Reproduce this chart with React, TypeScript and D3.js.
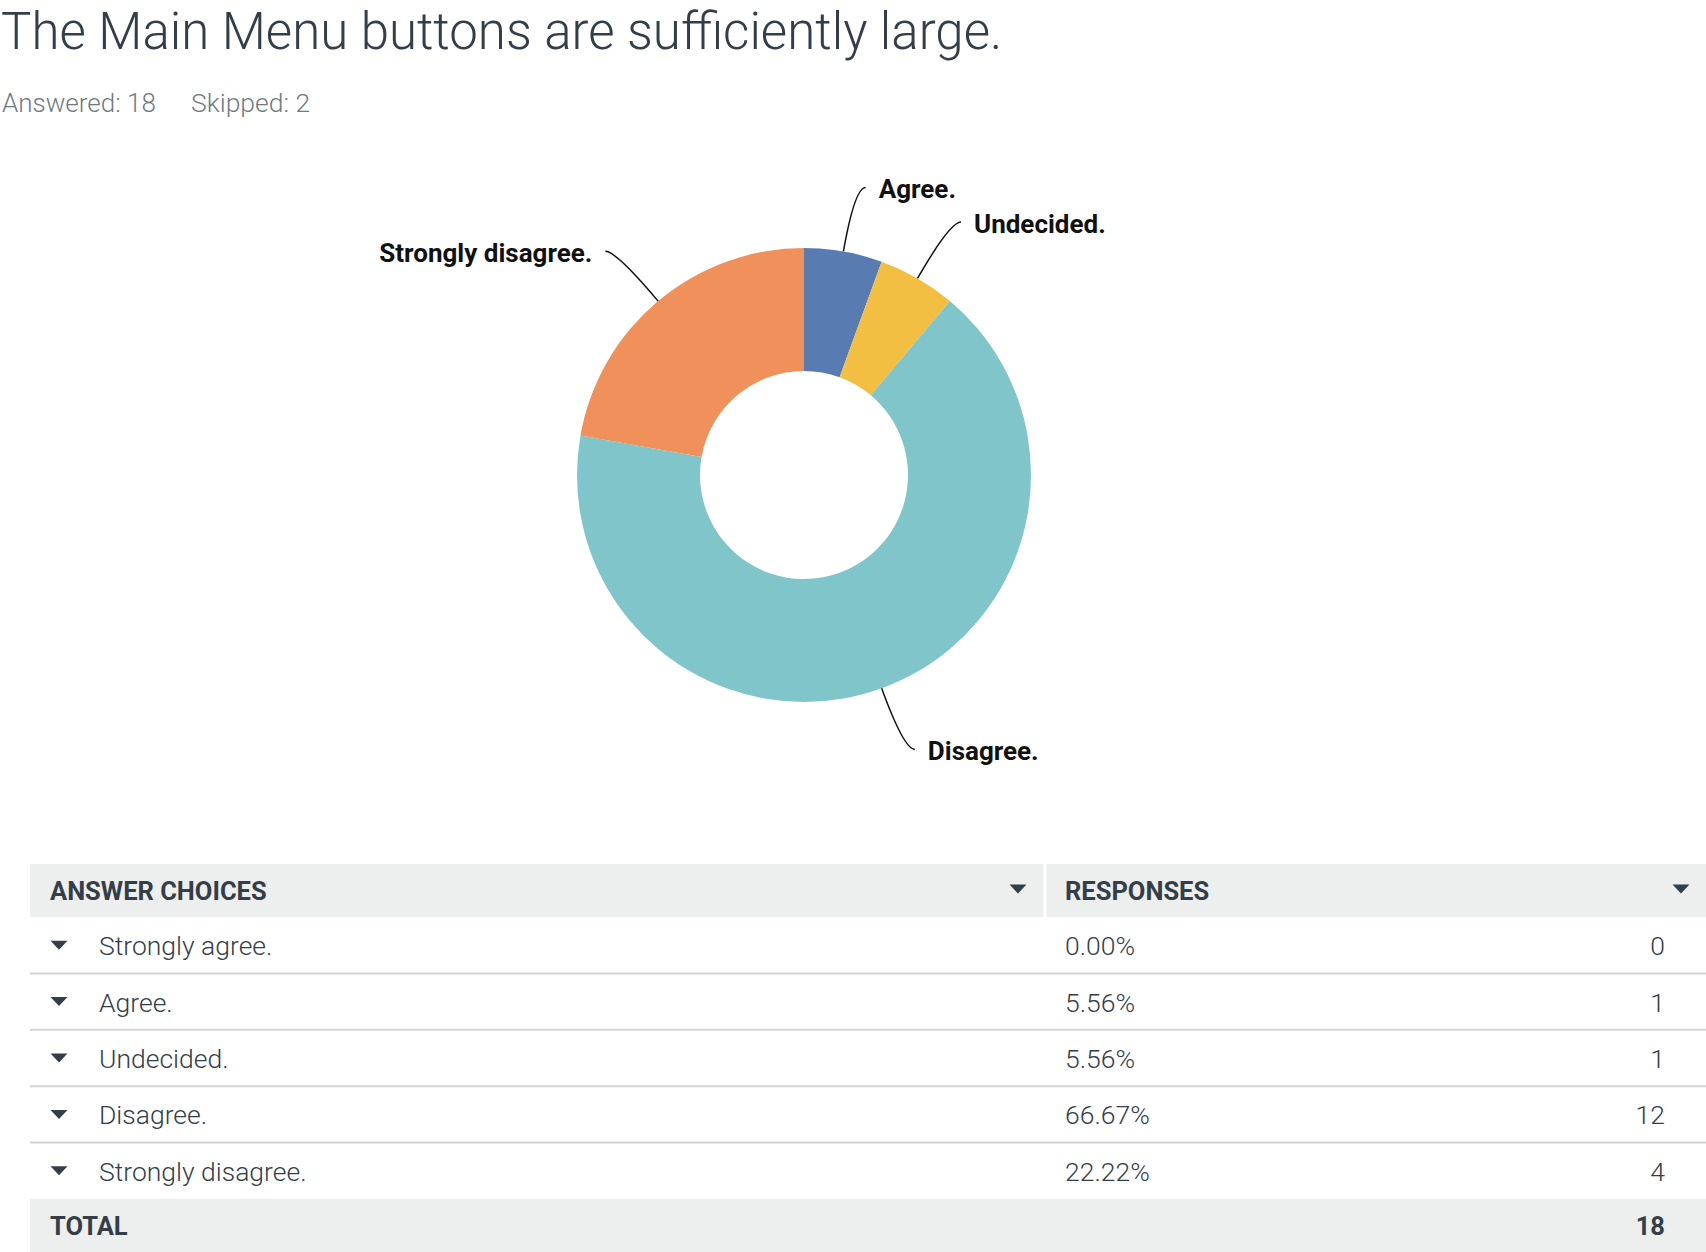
import * as d3 from "d3";

const choices = ["Strongly agree.", "Agree.", "Undecided.", "Disagree.", "Strongly disagree."];
const counts = [0, 1, 1, 12, 4];
const colors = ["#9aa5ab", "#587cb2", "#f2bf42", "#7fc5ca", "#f0905b"];
const answered = 18;
const skipped = 2;

const title = "The Main Menu buttons are sufficiently large.";

export default function App({ width = 1706, height = 1252 }) {
  const cx = 804;
  const cy = 475;
  const outer = 227;
  const inner = 104;
  const total = d3.sum(counts);
  const fmt = d3.format(".2%");

  const slices = d3
    .pie<number>()
    .sort(null)
    .value((d) => d)(counts);

  const arc = d3.arc<d3.PieArcDatum<number>>().innerRadius(inner).outerRadius(outer);

  const tableLeft = 30;
  const tableRight = width;
  const splitX = 1045;
  const headerTop = 864;
  const rowH = 56.4;
  const rowY = d3
    .scaleLinear()
    .domain([0, 1])
    .range([headerTop + 53, headerTop + 53 + rowH]);

  const tri = (x: number, y: number, w = 17, h = 9) =>
    `M${x - w / 2},${y - h / 2}L${x + w / 2},${y - h / 2}L${x},${y + h / 2}Z`;

  const textColor = "#333e48";
  const font = "Roboto, sans-serif";

  return (
    <svg width={width} height={height} style={{ position: "absolute", left: 0, top: 0 }} fontFamily={font}>
      <text x={1} y={49} fontSize={51} fontWeight={300} fill={textColor}>
        {title}
      </text>
      <text x={2} y={112} fontSize={26} fill="#6f7b83" fontWeight={300}>
        {`Answered: ${answered}`}
      </text>
      <text x={191} y={112} fontSize={26.5} fill="#6f7b83" fontWeight={300}>
        {`Skipped: ${skipped}`}
      </text>

      <g transform={`translate(${cx},${cy})`}>
        {slices.map((s, i) => (
          <path key={i} d={arc(s) || undefined} fill={colors[i]} />
        ))}
        {slices
          .filter((s) => s.value > 0)
          .map((s) => {
            const i = s.index;
            const a = (s.startAngle + s.endAngle) / 2;
            const p0 = [outer * Math.sin(a), -outer * Math.cos(a)];
            const r1 = 292;
            const p1 = [r1 * Math.sin(a), -r1 * Math.cos(a)];
            const side = Math.sin(a) >= 0 ? 1 : -1;
            const p2 = [p1[0] + side * 11, p1[1]];
            return (
              <g key={i}>
                <path
                  d={`M${p0[0]},${p0[1]}Q${p1[0]},${p1[1]} ${p2[0]},${p2[1]}`}
                  fill="none"
                  stroke="#111"
                  strokeWidth={1.5}
                />
                <text
                  x={p2[0] + side * 13}
                  y={p2[1]}
                  dy="0.4em"
                  textAnchor={side > 0 ? "start" : "end"}
                  fontSize={26}
                  fontWeight={700}
                  fill="#111"
                >
                  {choices[i]}
                </text>
              </g>
            );
          })}
      </g>

      {/* header */}
      <rect x={tableLeft} y={headerTop} width={tableRight - tableLeft} height={53} fill="#edeeee" />
      <line x1={splitX} x2={splitX} y1={headerTop} y2={headerTop + 53} stroke="#fff" strokeWidth={3} />
      <text x={50} y={headerTop + 36} fontSize={25.5} fontWeight={700} fill={textColor}>
        ANSWER CHOICES
      </text>
      <path d={tri(1018, headerTop + 25)} fill={textColor} />
      <text x={1065} y={headerTop + 36} fontSize={25.5} fontWeight={700} fill={textColor}>
        RESPONSES
      </text>
      <path d={tri(1681, headerTop + 25)} fill={textColor} />

      {choices.map((c, i) => {
        const y0 = rowY(i);
        const mid = y0 + rowH / 2;
        return (
          <g key={c}>
            {i > 0 && (
              <line x1={tableLeft} x2={tableRight} y1={y0} y2={y0} stroke="#d2d4d4" strokeWidth={2} />
            )}
            <path d={tri(59, mid)} fill={textColor} />
            <text x={99} y={mid + 10} fontSize={26.5} fontWeight={300} fill={textColor}>
              {c}
            </text>
            <text x={1065} y={mid + 10} fontSize={26.5} fontWeight={300} fill={textColor}>
              {fmt(total ? counts[i] / total : 0)}
            </text>
            <text x={1665} y={mid + 10} fontSize={26.5} fontWeight={300} fill={textColor} textAnchor="end">
              {counts[i]}
            </text>
          </g>
        );
      })}

      <rect x={tableLeft} y={rowY(choices.length)} width={tableRight - tableLeft} height={height - rowY(choices.length)} fill="#edeeee" />
      <text x={50} y={rowY(choices.length) + 36} fontSize={25.5} fontWeight={700} fill={textColor}>
        TOTAL
      </text>
      <text x={1665} y={rowY(choices.length) + 36} fontSize={25.5} fontWeight={700} fill={textColor} textAnchor="end">
        {total}
      </text>
    </svg>
  );
}
